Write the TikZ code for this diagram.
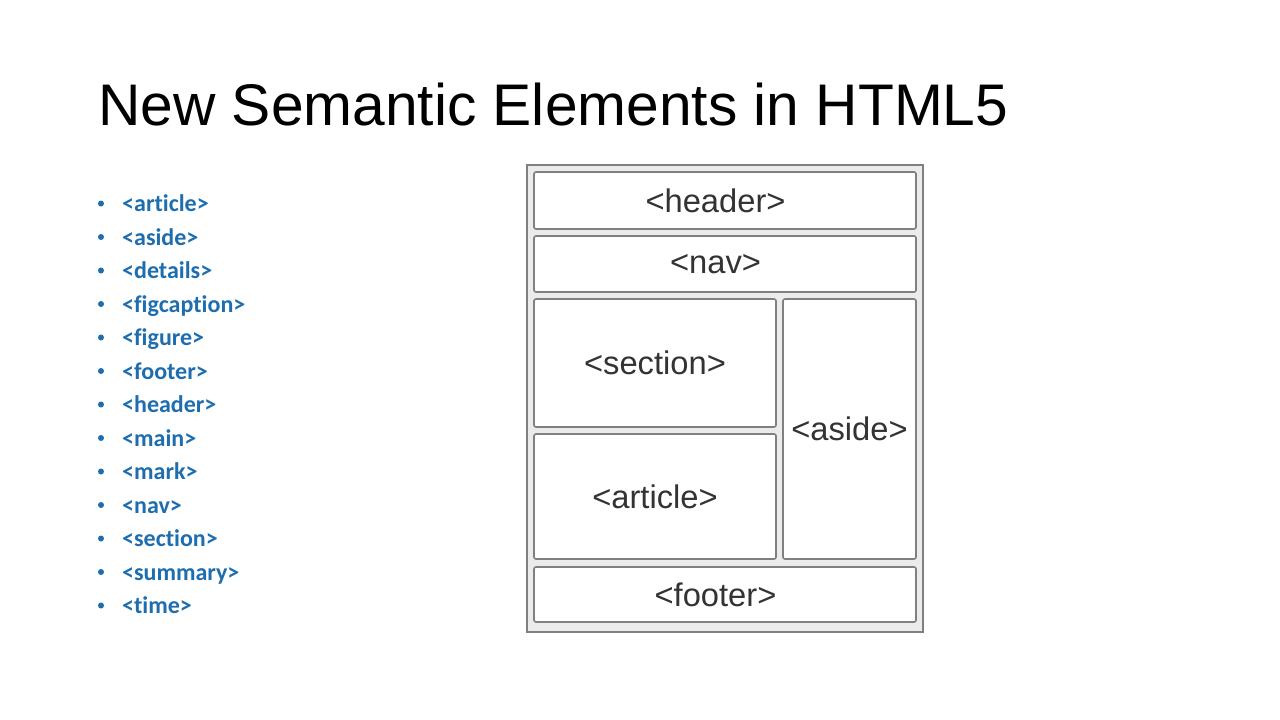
\documentclass[tikz,border=0pt]{standalone}
\usepackage{fontspec}
\setmainfont{Liberation Sans}
\newfontfamily\listfont[Ligatures=NoCommon]{Carlito}
\definecolor{listblue}{RGB}{30,110,175}
\definecolor{boxline}{RGB}{128,128,128}
\definecolor{outerfill}{RGB}{235,235,235}
\definecolor{boxtext}{RGB}{51,51,51}
\begin{document}
\begin{tikzpicture}[x=1pt,y=-1pt,
  elbox/.style={draw=boxline, line width=1.6pt, fill=white, rounded corners=2pt,
    inner sep=0pt, text=boxtext, font=\fontsize{32.7}{36}\selectfont},
  boxlabel/.style={inner sep=0pt, text=boxtext, font=\fontsize{32.7}{36}\selectfont},
  itemtext/.style={anchor=base west, inner sep=0pt, text=listblue,
    font=\listfont\bfseries\fontsize{24}{28}\selectfont},
  bulletdot/.style={circle, fill=listblue, inner sep=0pt, minimum size=6pt}]
\useasboundingbox (0,0) rectangle (1280,720);
\fill[white] (0,0) rectangle (1280,720);
% title
\node[anchor=base west, inner sep=0pt, font=\fontsize{58.7}{66}\selectfont] (title) at (98,125) {New Semantic Elements in HTML5};
% list
\foreach \t [count=\i] in {article,aside,details,figcaption,figure,footer,header,main,mark,nav,section,summary,time}{
  \pgfmathsetmacro{\yc}{203.5+33.5*(\i-1)}
  \node[bulletdot] (b\i) at (101,\yc) {};
  \node[itemtext] (l\i) at (122,\yc+8) {<\t>};
}
% outer frame
\node[draw=boxline, line width=2pt, fill=outerfill, inner sep=0pt,
  minimum width=396pt, minimum height=467pt] (frame) at (725,398.5) {};
% element boxes
\node[elbox, minimum width=382pt, minimum height=57pt] (header) at (725,200.5) {};
\node[boxlabel] (headerlabel) at ([xshift=-9.5pt]header.center) {<header>};
\node[elbox, minimum width=382pt, minimum height=56pt] (nav) at (725,264) {};
\node[boxlabel] (navlabel) at ([xshift=-9.5pt]nav.center) {<nav>};
\node[elbox, minimum width=242pt, minimum height=128pt] (section) at (655,363) {<section>};
\node[elbox, minimum width=242pt, minimum height=125pt] (article) at (655,496.5) {<article>};
\node[elbox, minimum width=133pt, minimum height=260pt] (aside) at (849.5,429) {<aside>};
\node[elbox, minimum width=382pt, minimum height=55pt] (footer) at (725,594.5) {};
\node[boxlabel] (footerlabel) at ([xshift=-9.5pt]footer.center) {<footer>};
\end{tikzpicture}
\end{document}
